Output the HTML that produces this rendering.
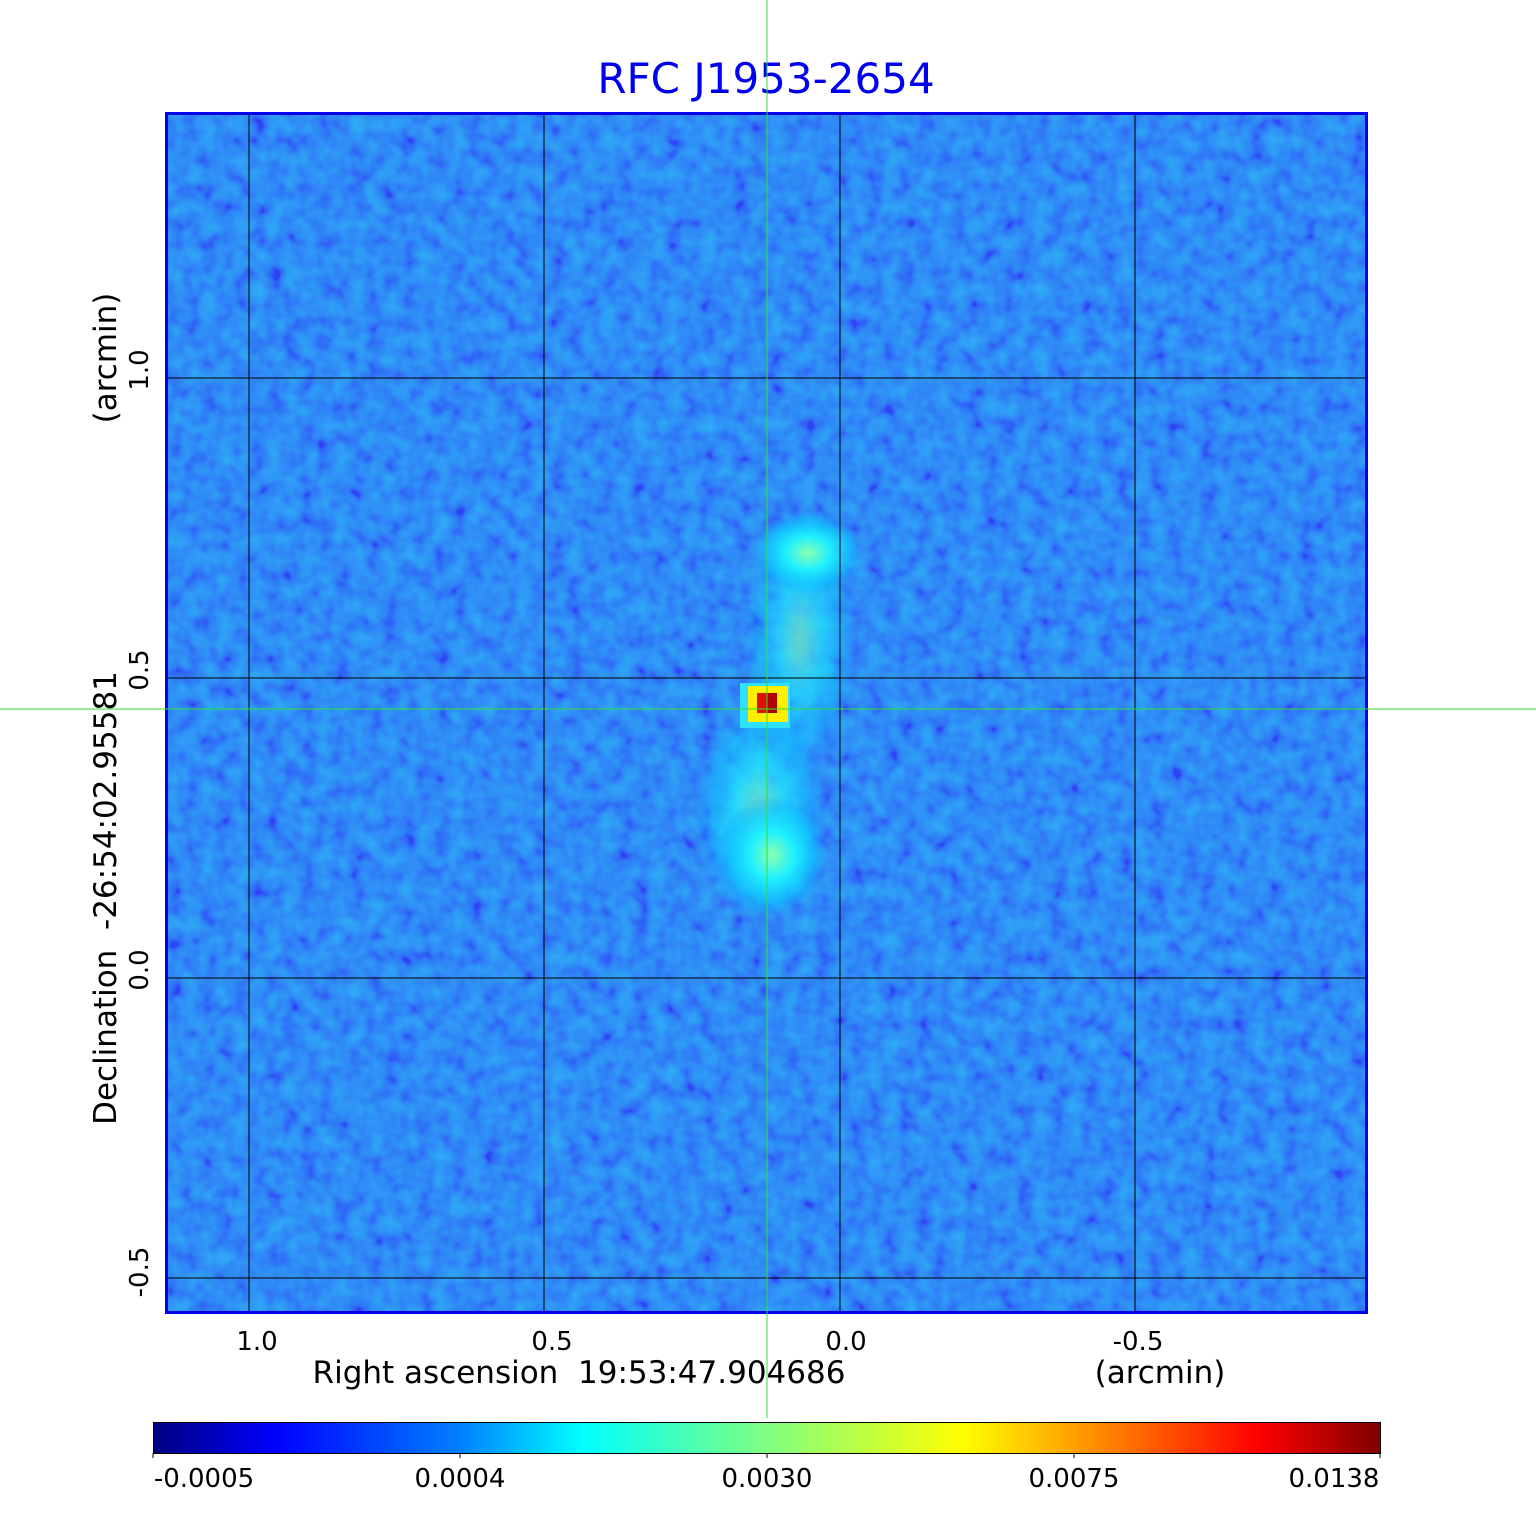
<!DOCTYPE html>
<html><head><meta charset="utf-8"><style>
body{margin:0;background:#fff;width:1536px;height:1511px;overflow:hidden;font-family:"DejaVu Sans","Liberation Sans",sans-serif}
</style></head><body>
<svg width="1536" height="1511" xmlns="http://www.w3.org/2000/svg" font-family="DejaVu Sans, Liberation Sans, sans-serif">
<defs>
<linearGradient id="cb" x1="0" x2="1" y1="0" y2="0">
<stop offset="0" stop-color="#000080"/><stop offset="0.1" stop-color="#0000ff"/>
<stop offset="0.25" stop-color="#0080ff"/><stop offset="0.35" stop-color="#00ffff"/>
<stop offset="0.5" stop-color="#80ff80"/><stop offset="0.66" stop-color="#ffff00"/>
<stop offset="0.78" stop-color="#ff8000"/><stop offset="0.9" stop-color="#ff0000"/><stop offset="1" stop-color="#800000"/>
</linearGradient>
<filter id="n" x="0" y="0" width="100%" height="100%">
<feTurbulence type="fractalNoise" baseFrequency="0.06" numOctaves="2" seed="3"/>
<feColorMatrix type="matrix" values="0 0 0 0 0.08  1.4 0 0 0 -0.25  0 0 0 0 0.96  0 0 0 0 1"/>
</filter>
<radialGradient id="b1"><stop offset="0" stop-color="#8affb0"/><stop offset="0.4" stop-color="#20f0ff"/><stop offset="0.75" stop-color="#10c8ff" stop-opacity="0.7"/><stop offset="1" stop-color="#10a0ff" stop-opacity="0"/></radialGradient>
</defs>
<text x="766" y="93" font-size="42" fill="#0000ee" text-anchor="middle">RFC J1953-2654</text>
<rect x="166" y="113" width="1201" height="1200" fill="#1a72f4"/>
<rect x="166" y="113" width="1201" height="1200" filter="url(#n)" opacity="0.4"/>
<ellipse cx="800" cy="640" rx="55" ry="130" fill="url(#b1)" opacity="0.6"/>
<ellipse cx="808" cy="553" rx="55" ry="42" fill="url(#b1)"/>
<ellipse cx="760" cy="810" rx="65" ry="110" fill="url(#b1)" opacity="0.7"/>
<ellipse cx="772" cy="855" rx="55" ry="60" fill="url(#b1)"/>
<rect x="740" y="683" width="50" height="45" fill="#30e0ff"/>
<rect x="748" y="686" width="40" height="36" fill="#ffee00"/>
<rect x="757" y="693" width="20" height="20" fill="#e01000"/>
<rect x="767" y="693" width="10" height="20" fill="#b00000"/>
<g stroke="#000" stroke-width="1">
<line x1="249" y1="113" x2="249" y2="1313"/><line x1="544" y1="113" x2="544" y2="1313"/>
<line x1="840" y1="113" x2="840" y2="1313"/><line x1="1135" y1="113" x2="1135" y2="1313"/>
<line x1="166" y1="378" x2="1367" y2="378"/><line x1="166" y1="678" x2="1367" y2="678"/>
<line x1="166" y1="978" x2="1367" y2="978"/><line x1="166" y1="1278" x2="1367" y2="1278"/>
</g>
<rect x="166.5" y="113.5" width="1200" height="1199" fill="none" stroke="#0000ee" stroke-width="3"/>
<line x1="767" y1="0" x2="767" y2="1418" stroke="#30e030" stroke-width="1"/>
<line x1="0" y1="709" x2="1536" y2="709" stroke="#30e030" stroke-width="1"/>
<g font-size="26" fill="#000" text-anchor="middle">
<text x="257" y="1350">1.0</text><text x="552" y="1350">0.5</text><text x="846" y="1350">0.0</text><text x="1138" y="1350">-0.5</text>
<text x="579" y="1383" font-size="31">Right ascension&#160;&#160;19:53:47.904686</text>
<text x="1160" y="1383" font-size="31">(arcmin)</text>
<text transform="translate(148,370) rotate(-90)">1.0</text>
<text transform="translate(148,670) rotate(-90)">0.5</text>
<text transform="translate(148,970) rotate(-90)">0.0</text>
<text transform="translate(148,1272) rotate(-90)">-0.5</text>
<text transform="translate(116,898) rotate(-90)" font-size="31">Declination&#160;&#160;-26:54:02.95581</text>
<text transform="translate(116,358) rotate(-90)" font-size="31">(arcmin)</text>
</g>
<rect x="153.5" y="1422.5" width="1227" height="31" fill="url(#cb)" stroke="#000" stroke-width="1"/>
<g stroke="#000"><line x1="153" y1="1453" x2="153" y2="1458"/><line x1="460" y1="1453" x2="460" y2="1458"/><line x1="767" y1="1453" x2="767" y2="1458"/><line x1="1074" y1="1453" x2="1074" y2="1458"/><line x1="1380" y1="1453" x2="1380" y2="1458"/></g>
<g font-size="26" fill="#000" text-anchor="middle">
<text x="204" y="1487">-0.0005</text><text x="460" y="1487">0.0004</text><text x="767" y="1487">0.0030</text><text x="1074" y="1487">0.0075</text><text x="1334" y="1487">0.0138</text>
</g>
</svg>
</body></html>
